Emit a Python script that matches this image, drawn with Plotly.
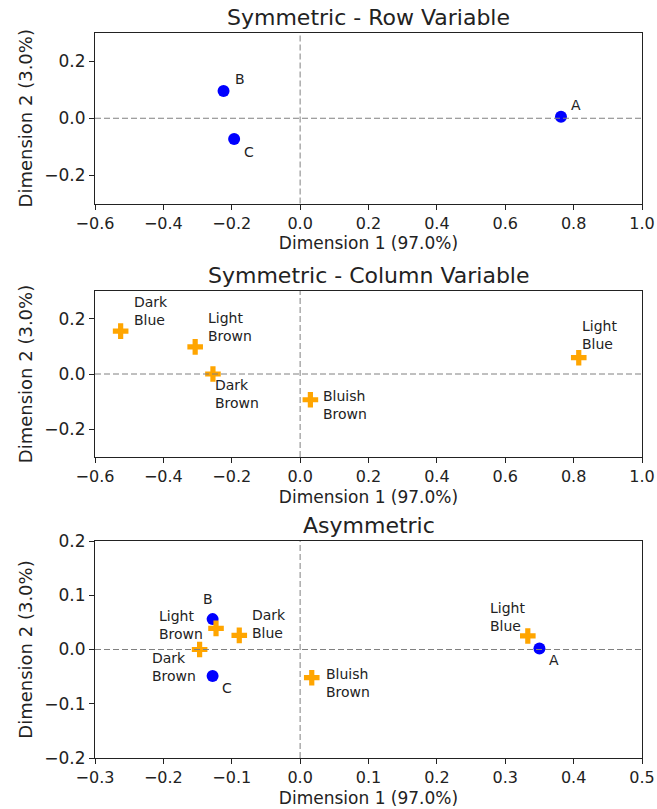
import plotly.graph_objects as go

# ---- data ----
row_labels = ["A", "B", "C"]
sym_row_x = [0.763, -0.224, -0.193]
sym_row_y = [0.005, 0.096, -0.073]

col_labels = ["Dark Blue", "Light Brown", "Dark Brown", "Bluish Brown", "Light Blue"]
sym_col_x = [-0.525, -0.307, -0.255, 0.030, 0.815]
sym_col_y = [0.155, 0.098, 0.0, -0.093, 0.059]

asym_row_x = [0.350, -0.128, -0.128]
asym_row_y = [0.002, 0.056, -0.049]
asym_col_x = [-0.089, -0.123, -0.147, 0.017, 0.333]
asym_col_y = [0.026, 0.039, 0.0, -0.052, 0.025]

titles = ["Symmetric - Row Variable", "Symmetric - Column Variable", "Asymmetric"]
x_title = "Dimension 1 (97.0%)"
y_title = "Dimension 2 (3.0%)"

# ---- label placement (pixel offsets; style only) ----
top_row_off = {"A": ("center", 15, 12), "B": ("center", 16, 12), "C": ("center", 15, -13)}
mid_col_off = {"Dark Blue": ("left", 11, 20), "Light Brown": ("left", 11, 20),
               "Dark Brown": ("left", 0, -20), "Bluish Brown": ("left", 11, -5),
               "Light Blue": ("left", 1, 23)}
bot_row_off = {"A": ("center", 15, -12), "B": ("center", -5, 20), "C": ("center", 14, -12)}
bot_col_off = {"Dark Blue": ("left", 11, 11), "Light Brown": ("right", -11, 3),
               "Dark Brown": ("right", -2, -17), "Bluish Brown": ("left", 12, -5),
               "Light Blue": ("right", -1, 19)}

FONT = "DejaVu Sans"
BLUE = "#0000ff"
ORANGE = "#ffa500"
TXT = "#222222"

fig = go.Figure()

def row_trace(x, y, ax):
    return go.Scatter(x=x, y=y, mode="markers", xaxis=ax[0], yaxis=ax[1],
                      marker=dict(symbol="circle", size=12, color=BLUE), showlegend=False)

def col_trace(x, y, ax):
    return go.Scatter(x=x, y=y, mode="markers", xaxis=ax[0], yaxis=ax[1],
                      marker=dict(symbol="cross", size=13, color=ORANGE), showlegend=False)

fig.add_trace(row_trace(sym_row_x, sym_row_y, ("x", "y")))
fig.add_trace(col_trace(sym_col_x, sym_col_y, ("x2", "y2")))
fig.add_trace(row_trace(asym_row_x, asym_row_y, ("x3", "y3")))
fig.add_trace(col_trace(asym_col_x, asym_col_y, ("x3", "y3")))

annotations = []

def add_labels(labels, xs, ys, offs, xref, yref):
    for lab, x, y in zip(labels, xs, ys):
        anchor, dx, dy = offs[lab]
        annotations.append(dict(
            x=x, y=y, xref=xref, yref=yref, text=lab.replace(" ", "<br>"),
            showarrow=False, xanchor=anchor, yanchor="middle", align="left",
            xshift=dx, yshift=dy, font=dict(family=FONT, size=14, color=TXT)))

add_labels(row_labels, sym_row_x, sym_row_y, top_row_off, "x", "y")
add_labels(col_labels, sym_col_x, sym_col_y, mid_col_off, "x2", "y2")
add_labels(row_labels, asym_row_x, asym_row_y, bot_row_off, "x3", "y3")
add_labels(col_labels, asym_col_x, asym_col_y, bot_col_off, "x3", "y3")

H = 809
W = 657
title_y = [17, 275, 525]
for t, py in zip(titles, title_y):
    annotations.append(dict(x=(95 + 642) / 2 / W, y=1 - py / H, xref="paper", yref="paper",
                            text=t, showarrow=False, xanchor="center", yanchor="middle",
                            font=dict(family=FONT, size=22, color=TXT)))

shapes = []
for xa, ya in [("x", "y"), ("x2", "y2"), ("x3", "y3")]:
    shapes.append(dict(type="line", xref=xa, yref=ya + " domain", x0=0, x1=0, y0=0, y1=1,
                       line=dict(color="#808080", width=1, dash="6px,3px")))
    shapes.append(dict(type="line", xref=xa + " domain", yref=ya, x0=0, x1=1, y0=0, y1=0,
                       line=dict(color="#808080", width=1, dash="6px,3px")))

xdom = [95 / W, 642 / W]
ydoms = [[1 - 203.5 / H, 1 - 33 / H], [1 - 457 / H, 1 - 291 / H], [1 - 758 / H, 1 - 541 / H]]

def axis_common():
    return dict(showline=True, mirror=True, linecolor=TXT, linewidth=1.2, ticks="outside",
                ticklen=5, tickwidth=1.2, tickcolor=TXT, showgrid=False, zeroline=False,
                automargin=False, tickfont=dict(family=FONT, size=17, color=TXT))

layout = dict(width=W, height=H, margin=dict(l=0, r=0, t=0, b=0),
              plot_bgcolor="white", paper_bgcolor="white",
              annotations=annotations, shapes=shapes, showlegend=False)

xranges = [[-0.6, 1.0], [-0.6, 1.0], [-0.3, 0.5]]
yranges = [[-0.3, 0.3], [-0.3, 0.3], [-0.2, 0.2]]
xdticks = [0.2, 0.2, 0.1]
ydticks = [0.2, 0.2, 0.1]
for i in range(3):
    sx = "" if i == 0 else str(i + 1)
    xa = axis_common()
    xa.update(domain=xdom, range=xranges[i], dtick=xdticks[i], tick0=0, tickformat=".1f",
              anchor="y" + sx, tickfont=dict(family=FONT, size=16, color=TXT),
              title=dict(text=x_title, font=dict(family=FONT, size=17, color=TXT), standoff=5))
    ya = axis_common()
    ya.update(domain=ydoms[i], range=yranges[i], dtick=ydticks[i], tick0=0, tickformat=".1f",
              anchor="x" + sx,
              title=dict(text=y_title, font=dict(family=FONT, size=18, color=TXT), standoff=6))
    layout["xaxis" + sx] = xa
    layout["yaxis" + sx] = ya

fig.update_layout(**layout)
fig.write_html("out.html", config={"displayModeBar": False},
               post_script="document.body.style.margin='0';document.body.style.padding='0';")
